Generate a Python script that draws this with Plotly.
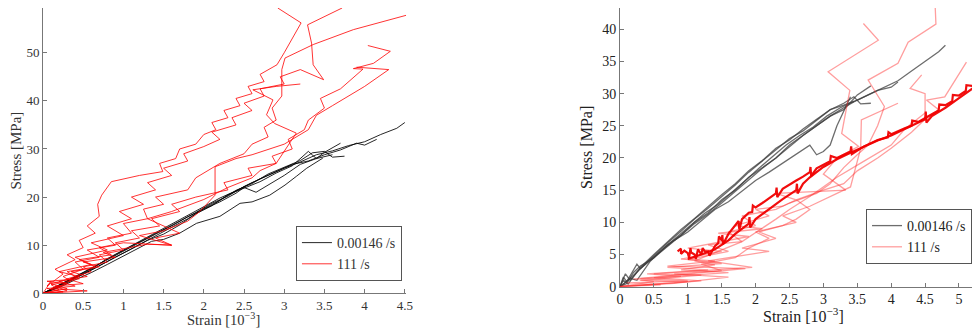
import plotly.graph_objects as go

# ---------------- Left panel data ----------------
L_black = [
    ([0,0.1,0.25,0.4,0.6,0.8,1.0,1.2,1.4,1.6,1.8,2.0,2.2,2.4,2.6,2.8,3.0,3.2,3.4,3.6,3.8,4.0,4.2,4.4,4.5],
     [0,0.8,2.0,3.3,5.0,7.2,9.0,10.8,12.6,14.5,16.3,18.0,19.8,21.3,23.0,24.5,26.0,27.3,28.8,29.6,30.7,31.5,33.0,34.3,35.5]),
    ([0,0.15,0.3,0.5,0.7,0.9,1.1,1.3,1.5,1.7,1.9,2.1,2.3,2.5,2.7,2.9,3.1,3.3,3.5,3.7,3.9,4.0,4.15],
     [0,1.2,2.5,4.3,6.2,8.0,9.8,11.5,13.2,15.0,16.8,18.7,20.2,22.2,23.8,25.3,26.8,27.5,28.8,29.8,31.2,30.8,32.0]),
    ([0,0.2,0.4,0.6,0.8,1.0,1.2,1.4,1.6,1.8,2.0,2.2,2.4,2.6,2.8,3.0,3.2,3.35,3.5,3.6,3.75],
     [0,1.5,3.2,4.8,6.6,8.4,10.1,11.9,13.8,15.5,17.6,19.3,21.4,22.8,24.8,26.2,27.6,29.2,29.5,28.3,28.5]),
    ([0,0.1,0.3,0.5,0.7,0.9,1.1,1.3,1.5,1.7,1.9,2.1,2.3,2.5,2.7,2.9,3.1,3.3,3.4,3.5,3.7],
     [0,0.6,2.2,4.0,5.8,7.5,9.2,11.0,12.3,14.2,16.5,18.2,20.5,21.8,23.2,25.0,26.5,29.5,28.0,29.3,31.2]),
    ([0,0.2,0.4,0.6,0.8,1.0,1.2,1.35,1.5,1.7,1.91,2.0,2.2,2.45,2.6,2.82,3.01,3.15,3.28,3.48],
     [0,1.2,2.8,4.3,6.0,7.8,9.5,10.8,11.2,12.5,14.55,15.0,16.0,18.7,19.0,20.4,22.5,24.3,26.0,28.1]),
    ([0,0.2,0.4,0.6,0.8,1.0,1.2,1.4,1.6,1.8,2.0,2.2,2.4,2.5,2.65,2.8,3.0,3.2,3.4,3.6],
     [0,1.8,3.5,5.2,7.0,8.8,10.5,12.3,14.0,15.9,17.5,19.0,20.8,22.0,21.0,22.5,24.5,26.8,28.0,28.8]),
]
L_red = [
    ([0,0.1,0.05,0.25,0.15,0.4,0.3,0.5,0.45,0.65,0.55,0.7,0.68,0.73,0.85,1.2,1.49,1.45,1.65,1.7,1.9,2.0,2.15,2.1,2.3,2.25,2.45,2.4,2.6,2.55,2.75,2.7,2.91,3.0,3.21,2.92],
     [0,2.5,1.5,4.0,5.0,7.0,8.0,9.5,11.0,12.5,14.0,16.0,18.5,20.4,23.2,24.5,25.3,27.0,28.0,30.0,31.0,33.0,34.0,35.5,36.5,38.0,39.0,40.5,41.5,43.0,44.0,45.5,47.5,50.0,56.2,59.3]),
    ([0,0.3,0.1,0.45,0.2,0.6,0.4,0.8,0.6,1.0,0.8,1.1,0.95,1.25,1.1,1.4,1.3,1.6,1.5,1.8,1.75,2.0,2.2,2.1,2.4,2.35,2.6,2.5,2.75,2.7,3.0,2.95,3.2,3.49,3.36,3.34,3.29,3.72],
     [0,1.0,2.0,3.5,4.5,6.0,7.5,9.0,10.5,12.0,14.0,15.5,17.0,18.5,20.0,21.5,23.0,24.5,26.0,27.5,29.0,30.5,32.0,33.5,35.0,36.5,38.0,39.5,41.0,42.5,43.5,45.0,46.5,44.4,47.5,52.0,55.8,59.3]),
    ([0,0.2,0.1,0.35,0.25,0.5,0.4,0.7,0.55,0.9,0.8,1.1,1.0,1.3,1.25,1.5,1.4,1.8,1.9,2.1,2.2,2.5,2.6,2.8,2.75,2.9,2.85,2.97,2.97,3.01,3.36,3.86,4.52],
     [0,0.8,1.8,2.5,3.5,5.0,6.5,7.5,9.0,10.0,11.5,12.5,14.5,15.5,17.5,18.5,20.0,21.5,24.0,26.0,27.0,29.0,31.0,32.5,34.5,36.0,38.5,41.0,46.5,48.9,51.7,54.8,57.8]),
    ([0,0.3,0.15,0.5,0.3,0.6,0.5,0.8,0.7,1.0,0.9,1.2,1.1,1.45,1.35,1.7,1.6,1.9,2.3,2.25,2.6,2.55,2.9,2.85,3.1,3.05,3.25,3.3,3.5,3.45,3.7,3.98,3.86,4.11,4.32,4.04],
     [0,0.5,1.5,2.0,3.0,4.5,5.5,6.5,8.0,9.0,10.5,11.5,13.0,14.0,15.5,17.0,18.5,20.0,21.5,23.0,24.5,26.0,27.0,28.5,30.0,32.0,34.0,36.0,38.5,40.5,42.5,46.6,46.7,47.8,50.3,51.5]),
    ([0,0.25,0.05,0.4,0.2,0.55,0.35,0.7,0.5,0.9,0.75,1.1,1.3,1.6,1.4,1.7,1.5,1.3,1.6,1.85,2.0,2.3,2.6,2.7,2.9,3.15,2.88,2.78,2.86,2.61,2.9,3.2],
     [0,0.3,1.0,1.5,2.5,3.5,4.5,5.5,6.5,7.5,8.5,9.5,10.2,10.0,11.5,12.5,14.0,15.5,17.0,18.5,19.5,22.0,24.0,25.5,27.0,33.3,35.3,37.1,40.2,42.3,43.0,43.5]),
    ([0,0.55,0.1,0.3,0.05,0.45,0.3,0.65,0.45,0.85,0.7,1.0,1.6,1.2,1.5,1.8,1.95,2.14,2.14,2.4,2.6,3.0,3.3,3.4,3.6,4.0,4.3,3.9],
     [0,0.5,1.0,2.0,2.5,3.0,4.5,5.5,7.0,8.0,9.5,10.5,10.0,12.0,13.0,15.0,17.0,20.4,26.3,28.0,28.8,31.0,34.0,37.0,39.0,43.0,46.5,47.0]),
]

# ---------------- Right panel data ----------------
R_black = [
    ([0,0.05,0.1,0.2,0.25,0.3,0.5,0.7,0.9,1.1,1.3,1.5,1.7,1.9,2.1,2.3,2.5,2.7,2.9,3.1,3.3,3.5,3.7,3.9,4.1,4.3,4.5,4.7,4.8],
     [0,1.5,0.8,2.5,3.5,2.8,4.5,6.5,8.0,10.0,11.5,13.5,15.0,17.0,18.5,20.0,22.0,23.5,25.0,26.5,27.8,29.0,30.0,31.0,32.0,33.5,35.0,36.5,37.5]),
    ([0,0.08,0.15,0.3,0.5,0.7,0.9,1.1,1.3,1.5,1.7,1.9,2.1,2.3,2.5,2.7,2.9,3.1,3.3,3.5,3.8,4.0,4.1],
     [0,2.0,1.0,2.8,4.8,6.8,8.6,10.5,12.2,14.0,15.8,17.8,19.5,21.2,23.0,24.2,25.8,27.5,28.2,29.0,30.5,31.0,31.8]),
    ([0,0.05,0.12,0.3,0.5,0.7,0.9,1.1,1.3,1.5,1.7,1.9,2.1,2.3,2.5,2.7,2.9,3.1,3.3,3.45,3.55,3.7],
     [0,1.0,0.4,3.0,5.0,7.0,8.9,10.6,12.5,14.3,16.0,18.0,19.6,21.5,22.8,24.5,26.0,27.5,28.5,29.5,28.4,28.5]),
    ([0,0.1,0.2,0.3,0.5,0.7,0.9,1.1,1.3,1.5,1.7,1.9,2.1,2.3,2.5,2.7,2.9,3.1,3.3,3.5,3.7],
     [0,0.5,2.2,3.2,4.5,6.2,8.0,9.8,11.3,13.0,14.8,16.6,18.4,20.0,21.8,23.5,25.0,26.5,27.5,29.8,31.2]),
    ([0,0.1,0.2,0.4,0.6,0.8,1.0,1.2,1.4,1.6,1.8,2.0,2.2,2.4,2.6,2.8,2.9,3.0,3.1,3.2,3.4],
     [0,0.8,1.8,3.8,5.5,7.2,8.5,10.2,12.0,13.2,14.8,16.5,17.8,19.2,20.5,22.0,20.5,21.0,22.0,25.0,29.5]),
    ([0,0.15,0.25,0.45,0.65,0.85,1.05,1.25,1.45,1.65,1.85,2.05,2.25,2.45,2.65,2.85,3.05,3.25,3.45],
     [0,1.3,1.0,4.0,6.0,7.8,9.6,11.4,12.8,14.6,16.5,18.4,20.2,22.0,23.5,24.8,26.5,27.8,28.8]),
]
R_thick = [
    ([0.85,0.9,0.9,0.95,1.0,1.02,1.04,1.05,1.1,1.12,1.15,1.2,1.22,1.25,1.3,1.32,1.4,1.45,1.46,1.5,1.51,1.52,1.6,1.7,1.75,1.76,1.8,1.9,1.95,1.96,2.0,2.1,2.2,2.3,2.31,2.32,2.4,2.5,2.6,2.7,2.8,2.81,2.82,2.9,3.0,3.1,3.11,3.2,3.4,3.41,3.42,3.6,3.8,3.95,3.96,4.0,4.2,4.3,4.31,4.4,4.6,4.7,4.71,4.8,4.9,4.91,5.0,5.1,5.11,5.2,5.31],
     [5.5,5.9,5.1,5.6,5.2,4.5,6.0,5.3,5.0,4.3,5.8,5.0,6.0,5.5,5.5,4.8,6.3,6.8,7.8,7.2,8.0,6.6,8.2,9.5,10.2,8.9,10.5,11.5,11.6,12.6,12.3,13.0,13.8,14.5,15.4,13.9,15.2,15.9,16.5,17.1,17.8,18.6,17.2,18.4,19.0,19.5,20.3,20.0,21.0,21.8,20.6,21.8,22.8,23.2,24.0,23.7,24.6,25.0,25.8,25.6,26.8,27.4,28.3,28.2,28.8,29.8,29.7,30.4,31.3,31.2,32.2]),
    ([1.0,1.1,1.2,1.3,1.4,1.5,1.6,1.7,1.8,1.9,1.91,1.92,2.0,2.1,2.2,2.3,2.4,2.5,2.6,2.61,2.62,2.7,2.8,3.0,3.2,3.4,3.6,3.8,4.0,4.2,4.4,4.5,4.51,4.52,4.6,4.8,5.0,5.2,5.31],
     [4.3,4.6,5.0,5.4,5.8,6.5,7.2,8.2,9.0,9.8,10.8,9.2,10.5,11.3,12.0,12.8,13.6,14.3,15.0,16.0,14.5,16.0,17.0,18.6,19.8,20.8,21.8,22.7,23.5,24.5,25.4,26.0,27.2,25.5,26.5,27.8,29.3,30.8,31.8]),
]
R_light = [
    ([0,0.5,0.2,0.9,0.4,1.3,0.7,1.5,1.0,1.6,1.3,1.8,1.6,2.0,1.8,2.3,2.5,2.9,3.1,3.3,3.5,3.66,3.8,3.9,3.66,4.10,4.25,4.66,4.65],
     [0,0.8,1.2,1.6,2.0,2.6,3.0,3.6,4.2,5.5,6.5,7.0,8.5,9.5,11.0,12.0,13.0,14.5,16.0,18.5,20.5,22.0,25.0,28.0,32.1,34.7,38.0,40.8,43.3]),
    ([0,0.6,0.1,1.0,0.3,1.85,0.7,1.4,0.9,1.5,1.0,1.9,1.45,2.1,1.7,2.2,2.0,2.4,2.6,2.3,3.33,3.0,3.2,3.52,3.27,3.39,3.07,3.81,3.59],
     [0,0.3,0.6,0.9,1.3,2.8,3.2,4.0,4.3,5.5,6.0,7.8,8.3,9.0,9.5,11.0,12.0,12.5,13.5,14.5,15.0,17.5,20.0,21.8,23.8,30.5,33.4,38.3,40.9]),
    ([0,1.0,0.3,1.2,0.5,1.95,1.3,2.2,1.8,2.3,2.05,2.4,2.6,2.8,2.6,3.0,3.3,3.5,3.8,4.0,4.3,4.5,4.7,4.52,4.79,5.11],
     [0,0.8,1.0,1.8,2.0,3.0,4.0,5.5,6.0,7.5,8.5,9.5,10.5,12.0,13.5,15.0,16.0,18.0,20.0,21.5,24.0,26.0,27.5,29.0,29.5,34.9]),
    ([0,0.8,1.6,0.8,1.5,1.2,1.7,1.9,2.2,2.0,2.6,2.4,2.8,3.1,3.4,3.55,3.56,4.10],
     [0,0.5,1.5,2.0,2.5,3.5,4.5,6.0,7.5,8.5,10.0,11.0,12.5,14.0,15.5,21.5,25.9,28.5]),
    ([0,0.6,1.2,0.5,1.6,0.9,1.4,1.1,1.8,2.3,2.5,2.8,3.2,3.6,4.0,4.2,4.5,4.5,4.28,4.45],
     [0,0.4,0.9,1.4,2.2,2.6,3.4,4.0,7.0,10.5,12.0,14.0,17.0,19.5,22.0,24.5,27.0,30.0,30.8,32.9]),
]
X_TITLE = "Strain [10<sup>−3</sup>]"
Y_TITLE = "Stress [MPa]"

FONT = "Liberation Serif, DejaVu Serif, serif"
fig = go.Figure()

def add(curves, xa, ya, color, width, name, legend):
    for i, (xs, ys) in enumerate(curves):
        fig.add_trace(go.Scatter(x=xs, y=ys, mode="lines", xaxis=xa, yaxis=ya,
                                 line=dict(color=color, width=width),
                                 name=name, legend=legend, cliponaxis=True,
                                 showlegend=(i == 0 and name is not None)))

add(L_black, "x", "y", "rgba(0,0,0,0.85)", 1, "0.00146 /s", "legend")
add(L_red, "x", "y", "rgba(255,0,0,0.8)", 1, "111 /s", "legend")
add(R_black, "x2", "y2", "rgba(60,60,60,0.75)", 1.3, "0.00146 /s", "legend2")
add(R_light, "x2", "y2", "rgba(255,40,40,0.45)", 1.3, "111 /s", "legend2")
add(R_thick, "x2", "y2", "rgba(240,0,0,0.95)", 2.2, None, "legend2")

def axis_common(size, color):
    return dict(showline=True, linecolor="#777", linewidth=1, ticks="inside",
                ticklen=4, tickcolor="#777", showgrid=False, zeroline=False,
                tickfont=dict(family=FONT, size=size, color=color),
                mirror=False, automargin=False)

# The page body has an 8px margin; the figure is sized to end at the window edge.
fig.update_layout(
    width=972, height=321, margin=dict(l=0, r=0, t=0, b=0),
    plot_bgcolor="white", paper_bgcolor="white",
    font=dict(family=FONT, size=14, color="#333"),
    xaxis=dict(domain=[0.0360, 0.4095], range=[0, 4.515], anchor="y",
               tickvals=[0,0.5,1,1.5,2,2.5,3,3.5,4,4.5],
               ticktext=["0","0.5","1","1.5","2","2.5","3","3.5","4","4.5"],
               **axis_common(13, "#333")),
    yaxis=dict(domain=[0.1112, 1.0], range=[0, 59.3], anchor="x",
               tickvals=[0,10,20,30,40,50],
               title=dict(text=Y_TITLE, standoff=5,
                          font=dict(family=FONT, size=15, color="#333")),
               **axis_common(13, "#333")),
    xaxis2=dict(domain=[0.6296, 1.0], range=[0, 5.31], anchor="y2",
                tickvals=[0,0.5,1,1.5,2,2.5,3,3.5,4,4.5,5],
                ticktext=["0","0.5","1","1.5","2","2.5","3","3.5","4","4.5","5"],
                **axis_common(14, "#222")),
    yaxis2=dict(domain=[0.1318, 1.0], range=[0, 43.3], anchor="x2",
                tickvals=[0,5,10,15,20,25,30,35,40],
                title=dict(text=Y_TITLE, standoff=5,
                           font=dict(family=FONT, size=16, color="#222")),
                **axis_common(14, "#222")),
    legend=dict(x=0.4053, y=0.1495, xanchor="right", yanchor="bottom",
                bgcolor="white", bordercolor="#555", borderwidth=1,
                font=dict(family=FONT, size=14, color="#333"),
                tracegroupgap=0, itemwidth=30),
    legend2=dict(x=0.9918, y=0.2025, xanchor="right", yanchor="bottom",
                 bgcolor="white", bordercolor="#555", borderwidth=1,
                 font=dict(family=FONT, size=14, color="#222"),
                 tracegroupgap=0, itemwidth=30),
    annotations=[
        dict(text=X_TITLE, xref="paper", yref="paper", x=0.2222, y=0.0,
             xanchor="center", yanchor="bottom", showarrow=False, borderpad=0,
             font=dict(family=FONT, size=14.5, color="#333")),
        dict(text=X_TITLE, xref="paper", yref="paper", x=0.818, y=0.01,
             xanchor="center", yanchor="bottom", showarrow=False, borderpad=0,
             font=dict(family=FONT, size=16, color="#222")),
    ],
)

fig.write_html("out.html")
